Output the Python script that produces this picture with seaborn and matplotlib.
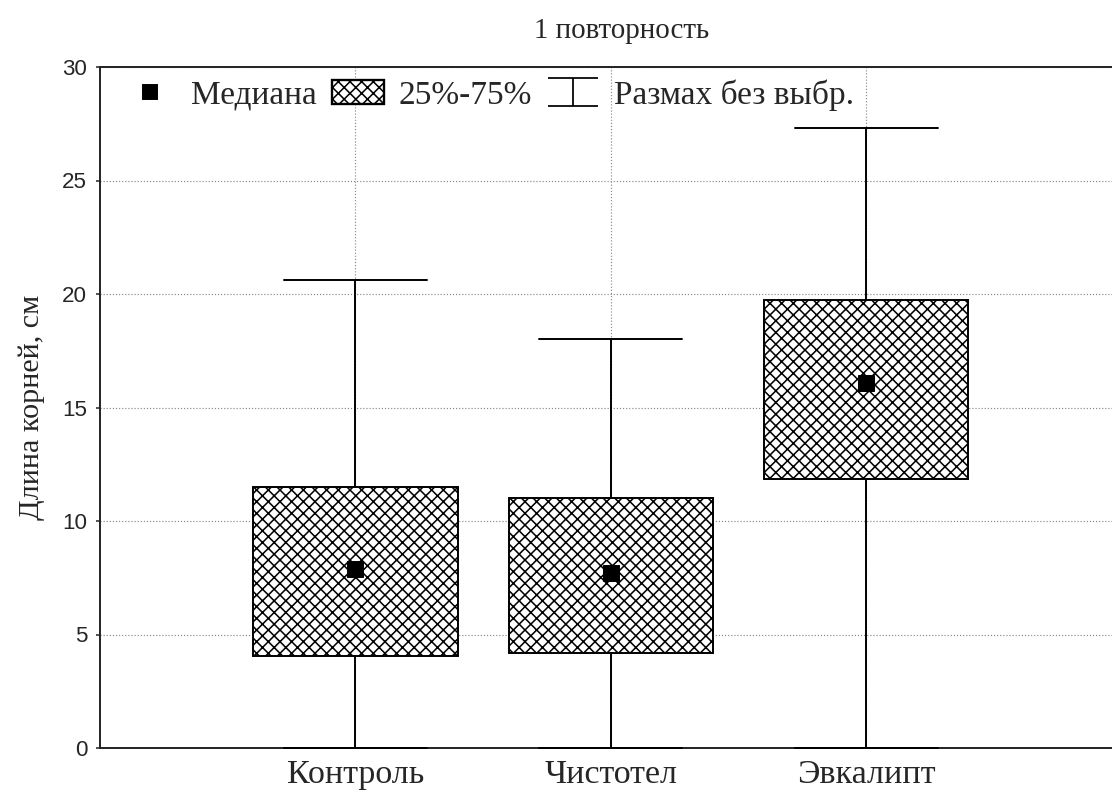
import numpy as np
import pandas as pd
import matplotlib
matplotlib.use('Agg')
import matplotlib.pyplot as plt
from matplotlib.lines import Line2D
from matplotlib.patches import Patch
from matplotlib.path import Path
import seaborn as sns

# five-number summaries
groups = ['Контроль', 'Чистотел', 'Эвкалипт']
whisker_low = [0.0, 0.0, 0.0]
q1 = [4.05, 4.2, 11.85]
medians = [7.9, 7.7, 16.1]
q3 = [11.5, 11.0, 19.75]
whisker_high = [20.6, 18.0, 27.3]

yticks = [0, 5, 10, 15, 20, 25, 30]

# 5 points per group -> quartiles of these are exactly q1/median/q3
rows = []
for g, lo, a, m, b, hi in zip(groups, whisker_low, q1, medians, q3, whisker_high):
    for v in (lo, a, m, b, hi):
        rows.append({'group': g, 'length': v})
df = pd.DataFrame(rows)

sns.set_style('white')
plt.rcParams['font.family'] = ['Liberation Serif', 'DejaVu Serif']
plt.rcParams['hatch.linewidth'] = 0.8

DPI = 140
fig = plt.figure(figsize=(1112 / DPI, 794 / DPI), dpi=DPI)
ax = fig.add_axes([100 / 1112, 46 / 794, 1021.5 / 1112, 681 / 794])

sns.boxplot(data=df, x='group', y='length', order=groups, whis=(0, 100),
            width=0.8, color='white', saturation=1, linecolor='black',
            linewidth=1.0, fliersize=0, capwidths=0.56,
            medianprops={'visible': False}, ax=ax)
for p in ax.patches:
    p.set_hatch('xxxx')
    p.set_zorder(3)
for ln in ax.lines:
    ln.set_clip_on(False)
    ln.set_zorder(4)

# medians as black squares
sns.pointplot(x=groups, y=medians, order=groups, color='black', marker='s',
              linestyle='none', markersize=8, markeredgewidth=0.5,
              errorbar=None, ax=ax)
for ln in ax.lines[-1:]:
    ln.set_zorder(6)
for c in ax.collections:
    c.set_zorder(6)

ax.set_xlim(-1, 3)
ax.set_ylim(0, 30)
ax.set_yticks(yticks)
ax.set_xticks(range(len(groups)))
ax.set_xticklabels(groups, fontsize=17.5)
ax.set_xlabel('')
ax.set_ylabel('Длина корней, см', fontsize=15.5, labelpad=9)
ax.set_title('1 повторность', fontsize=14.9, pad=15, x=(622 - 100) / 1021.5)

for lbl in ax.get_yticklabels():
    lbl.set_family(['Liberation Sans', 'DejaVu Sans'])
    lbl.set_fontsize(11.5)
ax.tick_params(axis='y', length=2, width=0.8, pad=4.5, left=True)
ax.tick_params(axis='x', length=0, pad=6)

ax.set_axisbelow(True)
ax.grid(True, linestyle=':', color='#888888', linewidth=0.6)
for s in ax.spines.values():
    s.set_color('#222222')
    s.set_linewidth(1.0)

# legend
whisk = Path([(-1, 0.57), (1, 0.57), (0, 0.57), (0, -0.57), (-1, -0.57), (1, -0.57)],
             [Path.MOVETO, Path.LINETO, Path.MOVETO, Path.LINETO, Path.MOVETO, Path.LINETO])
handles = [
    Line2D([], [], marker='s', color='black', linestyle='none', markersize=7),
    Patch(facecolor='white', edgecolor='black', hatch='xxxx', linewidth=1.2),
    Line2D([], [], marker=whisk, color='black', linestyle='none', markersize=26,
           markerfacecolor='none', markeredgewidth=0.9),
]
ax.legend(handles, ['Медиана', '25%-75%', 'Размах без выбр.'], ncol=3,
          loc='center left', bbox_to_anchor=(24 / 1021.5, (748 - 95) / 681),
          frameon=False, fontsize=17.2, handlelength=1.55, handletextpad=0.45,
          columnspacing=0.45, borderpad=0, borderaxespad=0)

fig.savefig('out.png', dpi=DPI)
